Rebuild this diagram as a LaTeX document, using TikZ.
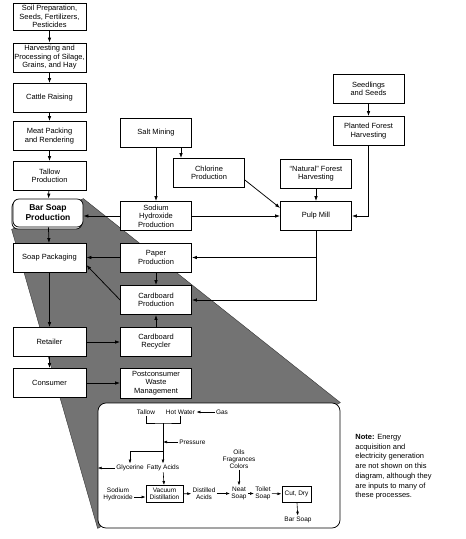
\documentclass[tikz,border=0pt]{standalone}
\usepackage{fontspec}
\setmainfont{Liberation Sans}
\usetikzlibrary{arrows.meta,backgrounds,shadows}
\begin{document}
\begin{tikzpicture}[>={Latex[length=5pt,width=3.5pt]}, x=1pt, y=-1pt, line width=.75pt,
  box/.style={draw, fill=white, align=center, minimum width=71pt, minimum height=29pt, inner sep=1pt, font=\fontsize{7.5}{8.5}\selectfont},
  lbox/.style={box, minimum width=73pt},
  tiny/.style={align=center, inner sep=1pt, font=\fontsize{6.5}{7.2}\selectfont},
  sarr/.style={->, line width=.6pt, >={Latex[length=4pt,width=2.8pt]}}]
\useasboundingbox (0,0) rectangle (466,539);
\node[lbox, minimum height=27pt] (soil) at (49.5,16.5) {Soil Preparation,\\Seeds, Fertilizers,\\Pesticides};
\node[lbox] (harvest) at (49.5,57.5) {Harvesting and\\Processing of Silage,\\Grains, and Hay};
\node[lbox] (cattle) at (49.5,98) {Cattle Raising};
\node[lbox] (meat) at (49.5,136) {Meat Packing\\and Rendering};
\node[lbox] (tallow) at (49.5,176) {Tallow\\Production};
\node[lbox, minimum width=70pt, minimum height=28pt, rounded corners=6pt, copy shadow={shadow xshift=-1pt, shadow yshift=-2pt}, font=\fontsize{8.5}{10}\selectfont\bfseries] (barsoap) at (48,213) {Bar Soap\\Production};
\node[lbox] (soappack) at (49.5,258) {Soap Packaging};
\node[lbox] (retailer) at (49.5,342) {Retailer};
\node[lbox] (consumer) at (49.5,383) {Consumer};
\node[box] (salt) at (156,132.5) {Salt Mining};
\node[box] (chlorine) at (209,173) {Chlorine\\Production};
\node[box] (naoh) at (156,216) {Sodium\\Hydroxide\\Production};
\node[box] (paper) at (156,257.5) {Paper\\Production};
\node[box] (cardprod) at (156,300) {Cardboard\\Production};
\node[box] (recycler) at (156,341.5) {Cardboard\\Recycler};
\node[box, minimum height=30pt] (postcons) at (156,383) {Postconsumer\\Waste\\Management};
\node[box] (natural) at (316,173.5) {``Natural'' Forest\\Harvesting};
\node[box] (seedlings) at (368.5,89) {Seedlings\\and Seeds};
\node[box] (planted) at (368.5,131) {Planted Forest\\Harvesting};
\node[box] (pulp) at (316,216) {Pulp Mill};
\draw[->] (soil) -- (harvest);
\draw[->] (harvest) -- (cattle);
\draw[->] (cattle) -- (meat);
\draw[->] (meat) -- (tallow);
\draw[->] (tallow) -- (barsoap);
\draw[->] (barsoap) -- (soappack);
\draw[->] (soappack) -- (retailer);
\draw[->] (retailer) -- (consumer);
\draw[->] (salt) -- (naoh);
\draw[->] ([xshift=-28pt]chlorine.north |- salt.south) -- ([xshift=-28pt]chlorine.north);
\draw[->] ([yshift=-7pt]chlorine.east) -- ([yshift=8pt]pulp.west);
\draw[->] (natural) -- (pulp);
\draw[->] (seedlings) -- (planted);
\draw[->] (planted) |- (pulp);
\draw[->] (naoh) -- (pulp);
\draw[->] (naoh.west) -- (naoh.west -| barsoap.east);
\draw[->] (pulp) |- (paper);
\draw[->] (pulp) |- (cardprod);
\draw[->] (paper) -- (paper -| soappack.east);
\draw[->] (paper) -- (cardprod);
\draw[->] (cardprod.west) -- ([yshift=-7pt]soappack.east);
\draw[->] (recycler) -- (cardprod);
\draw[->] (retailer) -- (retailer -| recycler.west);
\draw[->] (consumer) -- (postcons);
\node[draw, fill=white, rounded corners=8pt, minimum width=242pt, minimum height=125pt] (inset) at (219,465.5) {};
\begin{scope}[on background layer]
\fill[black!55, draw=black!80] (barsoap.north east) -- (inset.north east) -- (inset.south west) -- ([shift={(-1pt,-2pt)}]barsoap.south west) -- cycle;
\end{scope}
\node[tiny] (tallowin) at (146,412) {Tallow};
\node[tiny] (hotwater) at (180.5,412) {Hot Water};
\node[tiny] (gas) at (222,412) {Gas};
\coordinate (join) at (163,423);
\coordinate (split) at (163,451);
\node[tiny, anchor=west] (pressure) at (178,442) {Pressure};
\node[tiny] (glycerine) at (130,468) {Glycerine};
\node[tiny] (fatty) at (163,468) {Fatty Acids};
\node[tiny] (naohin) at (118,494) {Sodium\\Hydroxide};
\node[tiny, draw, line width=.7pt, minimum width=37pt, minimum height=17pt] (vacuum) at (164.5,494) {Vacuum\\Distillation};
\node[tiny] (distilled) at (204,493.5) {Distilled\\Acids};
\node[tiny] (oils) at (239,459) {Oils\\Fragrances\\Colors};
\node[tiny] (neat) at (239,493.5) {Neat\\Soap};
\node[tiny] (toilet) at (263,493.5) {Toilet\\Soap};
\node[tiny, draw, line width=1pt, minimum width=29pt, minimum height=16pt] (cutdry) at (296.5,494) {Cut, Dry};
\node[tiny] (barsoapin) at (298,520) {Bar Soap};
\draw[sarr] (gas) -- (hotwater);
\draw[line width=.6pt] (tallowin.south) |- (join) -| (hotwater.south);
\draw[sarr] (join) -- (fatty);
\draw[sarr] (pressure.west) -- (pressure.west -| join);
\draw[sarr] (split) -| (glycerine);
\draw[sarr] (glycerine.west) -- (glycerine.west -| inset.west);
\draw[sarr] (fatty) -- (vacuum);
\draw[sarr] ([yshift=-3pt]naohin.east) -- ([yshift=-3pt]naohin.east -| vacuum.west);
\draw[sarr] (vacuum) -- (distilled);
\draw[sarr] (distilled) -- (neat);
\draw[sarr] (oils) -- (neat);
\draw[sarr] (neat) -- (toilet);
\draw[sarr] (toilet) -- (cutdry);
\draw[sarr] (cutdry) -- (barsoapin);
\node[anchor=north west, align=left, inner sep=0pt, font=\fontsize{7.5}{9.7}\selectfont] (note) at (355,434) {\textbf{Note:} Energy\\acquisition and\\electricity generation\\are not shown on this\\diagram, although they\\are inputs to many of\\these processes.};
\end{tikzpicture}
\end{document}
